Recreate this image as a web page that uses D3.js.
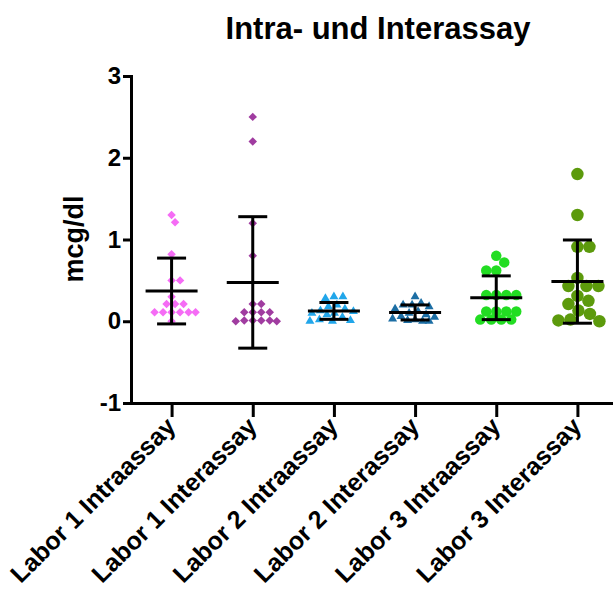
<!DOCTYPE html>
<meta charset="utf-8">
<style>
body {
  margin: 0;
  background: #fff;
  font-family: 'Liberation Sans', Arial, Helvetica, sans-serif;
}
.axis .domain, .axis .tick line {
  stroke: #000;
  stroke-width: 3px;
}
.axis text {
  font-family: 'Liberation Sans', Arial, sans-serif;
  font-weight: bold;
  fill: #000;
}
.errbar {
  stroke: #000;
  stroke-width: 3px;
  fill: none;
}
</style>
<body>
<div id="chart"></div>
<script src="https://d3js.org/d3.v7.min.js"></script>
<script>
// categories and tick labels
var categories = ["Labor 1 Intraassay", "Labor 1 Interassay", "Labor 2 Intraassay",
                  "Labor 2 Interassay", "Labor 3 Intraassay", "Labor 3 Interassay"];
var yTicks = [-1, 0, 1, 2, 3];

// values (mcg/dl)
var labor1Intra = [1.30, 1.21, 0.82, 0.50, 0.50, 0.30, 0.21, 0.21, 0.21, 0.11, 0.11, 0.11, 0.11, 0.11, 0.11, 0.00];
var labor1Inter = [2.50, 2.20, 1.20, 0.80, 0.21, 0.21, 0.11, 0.11, 0.11, 0.11, 0.01, 0.01, 0.01, 0.01, 0.00, 0.00];
var labor2Intra = [0.30, 0.30, 0.28, 0.20, 0.18, 0.15, 0.13, 0.12, 0.10, 0.10, 0.08, 0.05, 0.02, 0.01, 0.00, 0.00];
var labor2Inter = [0.30, 0.22, 0.20, 0.20, 0.18, 0.15, 0.12, 0.10, 0.08, 0.06, 0.05, 0.03, 0.02, 0.01, 0.00, 0.00];
var labor3Intra = [0.80, 0.72, 0.62, 0.62, 0.32, 0.32, 0.32, 0.32, 0.12, 0.12, 0.12, 0.12, 0.02, 0.02, 0.02, 0.02];
var labor3Inter = [1.80, 1.30, 0.91, 0.91, 0.53, 0.43, 0.43, 0.43, 0.31, 0.25, 0.21, 0.13, 0.09, 0.02, 0.01, 0.00];

var seriesValues = [labor1Intra, labor1Inter, labor2Intra, labor2Inter, labor3Intra, labor3Inter];

// marker styles per group
var colors = ["#f56cf5", "#a03ca0", "#21a6ea", "#1c6ea4", "#22dd22", "#5c9a0c"];
var shapes = ["diamond", "diamond", "triangle", "triangle", "circle", "circle"];
var sizes  = [8.5, 8.5, 9, 9, 10.5, 12.5];   // marker width in px

var width = 613,
    height = 589;

var svg = d3.select("#chart").append("svg")
    .attr("width", width)
    .attr("height", height);

var x = d3.scalePoint()
    .domain(categories)
    .range([131, 618])
    .padding(0.5);

var y = d3.scaleLinear()
    .domain([-1, 3])
    .range([403, 76]);

// title
svg.append("text")
    .attr("x", 378)
    .attr("y", 39)
    .attr("text-anchor", "middle")
    .style("font-size", "31px")
    .style("font-weight", "bold")
    .text("Intra- und Interassay");

// y axis label
svg.append("text")
    .attr("transform", "translate(83,239) rotate(-90)")
    .attr("text-anchor", "middle")
    .style("font-size", "27px")
    .style("font-weight", "bold")
    .text("mcg/dl");

// simple beeswarm: push points sideways until they don't overlap
function swarm(values, diam, maxOff) {
  var pts = values.map(function(v) { return {v: v, py: y(v)}; })
      .sort(function(a, b) { return a.py - b.py; });
  var offs = [0];
  for (var s = 0.5; s <= maxOff; s += 0.5) { offs.push(s, -s); }
  var placed = [];
  pts.forEach(function(p) {
    var best = 0, bestD = -1;
    for (var i = 0; i < offs.length; i++) {
      var minD = Infinity;
      placed.forEach(function(q) {
        var dx = offs[i] - q.off, dy = p.py - q.py;
        minD = Math.min(minD, Math.sqrt(dx * dx + dy * dy));
      });
      if (minD >= diam) { best = offs[i]; bestD = minD; break; }
      if (minD > bestD) { bestD = minD; best = offs[i]; }
    }
    p.off = best;
    placed.push(p);
  });
  return placed;
}

function symbolPath(shape, w) {
  if (shape === "circle") return d3.symbol(d3.symbolCircle, Math.PI * w * w / 4)();
  if (shape === "triangle") return d3.symbol(d3.symbolTriangle, Math.sqrt(3) / 4 * w * w)();
  return d3.symbol(d3.symbolSquare, w * w / 2)();
}

var groups = svg.append("g").attr("class", "points");

categories.forEach(function(cat, i) {
  var cx = x(cat);
  var pts = swarm(seriesValues[i], sizes[i] * 0.95, 24);
  var path = symbolPath(shapes[i], sizes[i]);
  groups.selectAll(null)
      .data(pts)
    .enter().append("path")
      .attr("d", path)
      .attr("transform", function(d) {
        return "translate(" + (cx + d.off) + "," + d.py + ")" + (shapes[i] === "diamond" ? " rotate(45)" : "");
      })
      .style("fill", colors[i]);
});

// mean and SD bars on top of the points
var stats = categories.map(function(cat, i) {
  return {cat: cat, mean: d3.mean(seriesValues[i]), sd: d3.deviation(seriesValues[i])};
});

var bars = svg.append("g").selectAll("g")
    .data(stats)
  .enter().append("g")
    .attr("class", "errbar");

bars.append("line")
    .attr("x1", function(d) { return x(d.cat); })
    .attr("x2", function(d) { return x(d.cat); })
    .attr("y1", function(d) { return y(d.mean + d.sd); })
    .attr("y2", function(d) { return y(d.mean - d.sd); });
bars.append("line")
    .attr("x1", function(d) { return x(d.cat) - 26; })
    .attr("x2", function(d) { return x(d.cat) + 26; })
    .attr("y1", function(d) { return y(d.mean); })
    .attr("y2", function(d) { return y(d.mean); });
bars.append("line")
    .attr("x1", function(d) { return x(d.cat) - 14.5; })
    .attr("x2", function(d) { return x(d.cat) + 14.5; })
    .attr("y1", function(d) { return y(d.mean + d.sd); })
    .attr("y2", function(d) { return y(d.mean + d.sd); });
bars.append("line")
    .attr("x1", function(d) { return x(d.cat) - 14.5; })
    .attr("x2", function(d) { return x(d.cat) + 14.5; })
    .attr("y1", function(d) { return y(d.mean - d.sd); })
    .attr("y2", function(d) { return y(d.mean - d.sd); });

// axes
svg.append("g")
    .attr("class", "axis")
    .attr("transform", "translate(0,403)")
    .call(d3.axisBottom(x).tickSize(14).tickSizeOuter(0))
  .selectAll("text")
    .attr("x", 0)
    .attr("y", 0)
    .attr("dy", 0)
    .attr("text-anchor", "end")
    .attr("transform", "translate(5,25) rotate(-45)")
    .style("font-size", "25px");

svg.append("g")
    .attr("class", "axis")
    .attr("transform", "translate(131,0)")
    .call(d3.axisLeft(y).tickValues(yTicks).tickFormat(function(d) { return String(d); })
      .tickSize(8).tickPadding(2).tickSizeOuter(0))
  .selectAll("text")
    .style("font-size", "24px");

svg.selectAll(".axis .domain").style("stroke-linecap", "square");
</script>
</body>
